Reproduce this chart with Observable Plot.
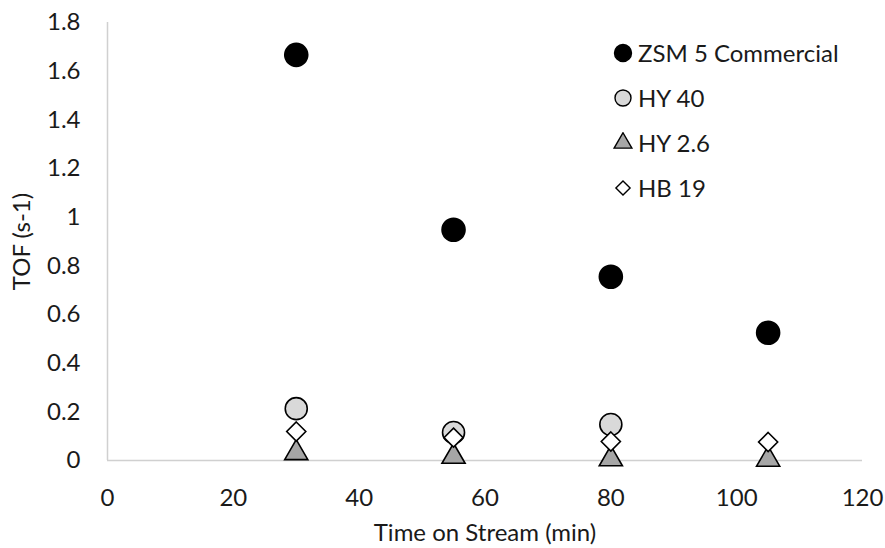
<!DOCTYPE html>
<html>
<head>
<meta charset="utf-8">
<script src="https://cdn.jsdelivr.net/npm/d3@7"></script>
<script src="https://cdn.jsdelivr.net/npm/@observablehq/plot@0.6"></script>
<style>
  html, body { margin: 0; padding: 0; background: #fff; }
  #chart { position: relative; width: 885px; height: 548px; font-family: Lato, "Open Sans", sans-serif; }
  #legend { position: absolute; left: 612px; top: 30px; }
  .lg-row { display: flex; align-items: center; height: 45px; font-size: 24px; color: #1a1a1a; }
  .lg-row svg { margin-right: 4px; }
</style>
</head>
<body>
<div id="chart"></div>
<script>
// Time on stream (min) for each measurement
const times = [30, 55, 80, 105];

// Turnover frequency (s-1) per catalyst
const zsm5 = [1.667, 0.948, 0.755, 0.525];
const hy40 = [0.213, 0.115, 0.148, null];
const hy26 = [0.031, 0.016, 0.006, 0.004];
const hb19 = [0.119, 0.094, 0.078, 0.076];

// Series names as shown in the legend
const seriesNames = ["ZSM 5 Commercial", "HY 40", "HY 2.6", "HB 19"];

// Axis ticks
const xTicks = [0, 20, 40, 60, 80, 100, 120];
const yTicks = [0, 0.2, 0.4, 0.6, 0.8, 1, 1.2, 1.4, 1.6, 1.8];

const seriesValues = [zsm5, hy40, hy26, hb19];
const styles = [
  {symbol: "circle",   r: 11.5, fill: "#000000",  stroke: "#000000", legendSize: 8.5},
  {symbol: "circle",   r: 11,   fill: "#d9d9d9",  stroke: "#000000", legendSize: 8},
  {symbol: "triangle", r: 8.6,  fill: "#a6a6a6",  stroke: "#000000", legendSize: 6.6},
  {symbol: "diamond2", r: 8.6,  fill: "#ffffff",  stroke: "#000000", legendSize: 6.4}
];

const rows = seriesNames.map((name, i) =>
  times.map((t, j) => ({series: name, time: t, tof: seriesValues[i][j]}))
       .filter(d => d.tof != null)
);

const dotMarks = rows.map((data, i) =>
  Plot.dot(data, {
    x: "time", y: "tof",
    symbol: () => styles[i].symbol,
    r: styles[i].r,
    fill: styles[i].fill,
    stroke: styles[i].stroke,
    strokeWidth: 1.6
  })
);

const chart = Plot.plot({
  width: 885,
  height: 548,
  marginLeft: 107,
  marginRight: 23,
  marginTop: 22,
  marginBottom: 88,
  style: {fontFamily: "Lato, 'Open Sans', sans-serif", fontSize: "24px", color: "#1a1a1a", background: "#fff"},
  x: {domain: [0, 120]},
  y: {domain: [0, 1.8]},
  symbol: {type: "identity"},
  marks: [
    Plot.axisX(xTicks, {
      tickSize: 0, tickPadding: 28, fontSize: 24,
      label: "Time on Stream (min)", labelAnchor: "center", labelOffset: 80, labelArrow: "none"
    }),
    Plot.axisY(yTicks, {
      tickSize: 0, tickPadding: 27, fontSize: 24,
      tickFormat: d => String(+d.toFixed(1)),
      label: "TOF (s-1)", labelAnchor: "center", labelOffset: 95, labelArrow: "none"
    }),
    Plot.ruleY([0], {stroke: "#d0d0d0", strokeWidth: 1.5}),
    Plot.ruleX([0], {stroke: "#d0d0d0", strokeWidth: 1.5}),
    ...dotMarks
  ]
});

const root = document.getElementById("chart");
root.appendChild(chart);

// Legend: one row per catalyst, symbol drawn with d3.symbol
const legend = document.createElement("div");
legend.id = "legend";
const symbolTypes = {circle: d3.symbolCircle, triangle: d3.symbolTriangle, diamond2: d3.symbolDiamond2};
seriesNames.forEach((name, i) => {
  const st = styles[i];
  const row = document.createElement("div");
  row.className = "lg-row";
  const size = 22;
  const svg = d3.create("svg").attr("width", size).attr("height", size)
    .attr("viewBox", `${-size / 2} ${-size / 2} ${size} ${size}`);
  svg.append("path")
    .attr("d", d3.symbol(symbolTypes[st.symbol], Math.PI * st.legendSize * st.legendSize)())
    .attr("fill", st.fill)
    .attr("stroke", st.stroke)
    .attr("stroke-width", 1.4);
  row.appendChild(svg.node());
  const label = document.createElement("span");
  label.textContent = name;
  row.appendChild(label);
  legend.appendChild(row);
});
root.appendChild(legend);
</script>
</body>
</html>
